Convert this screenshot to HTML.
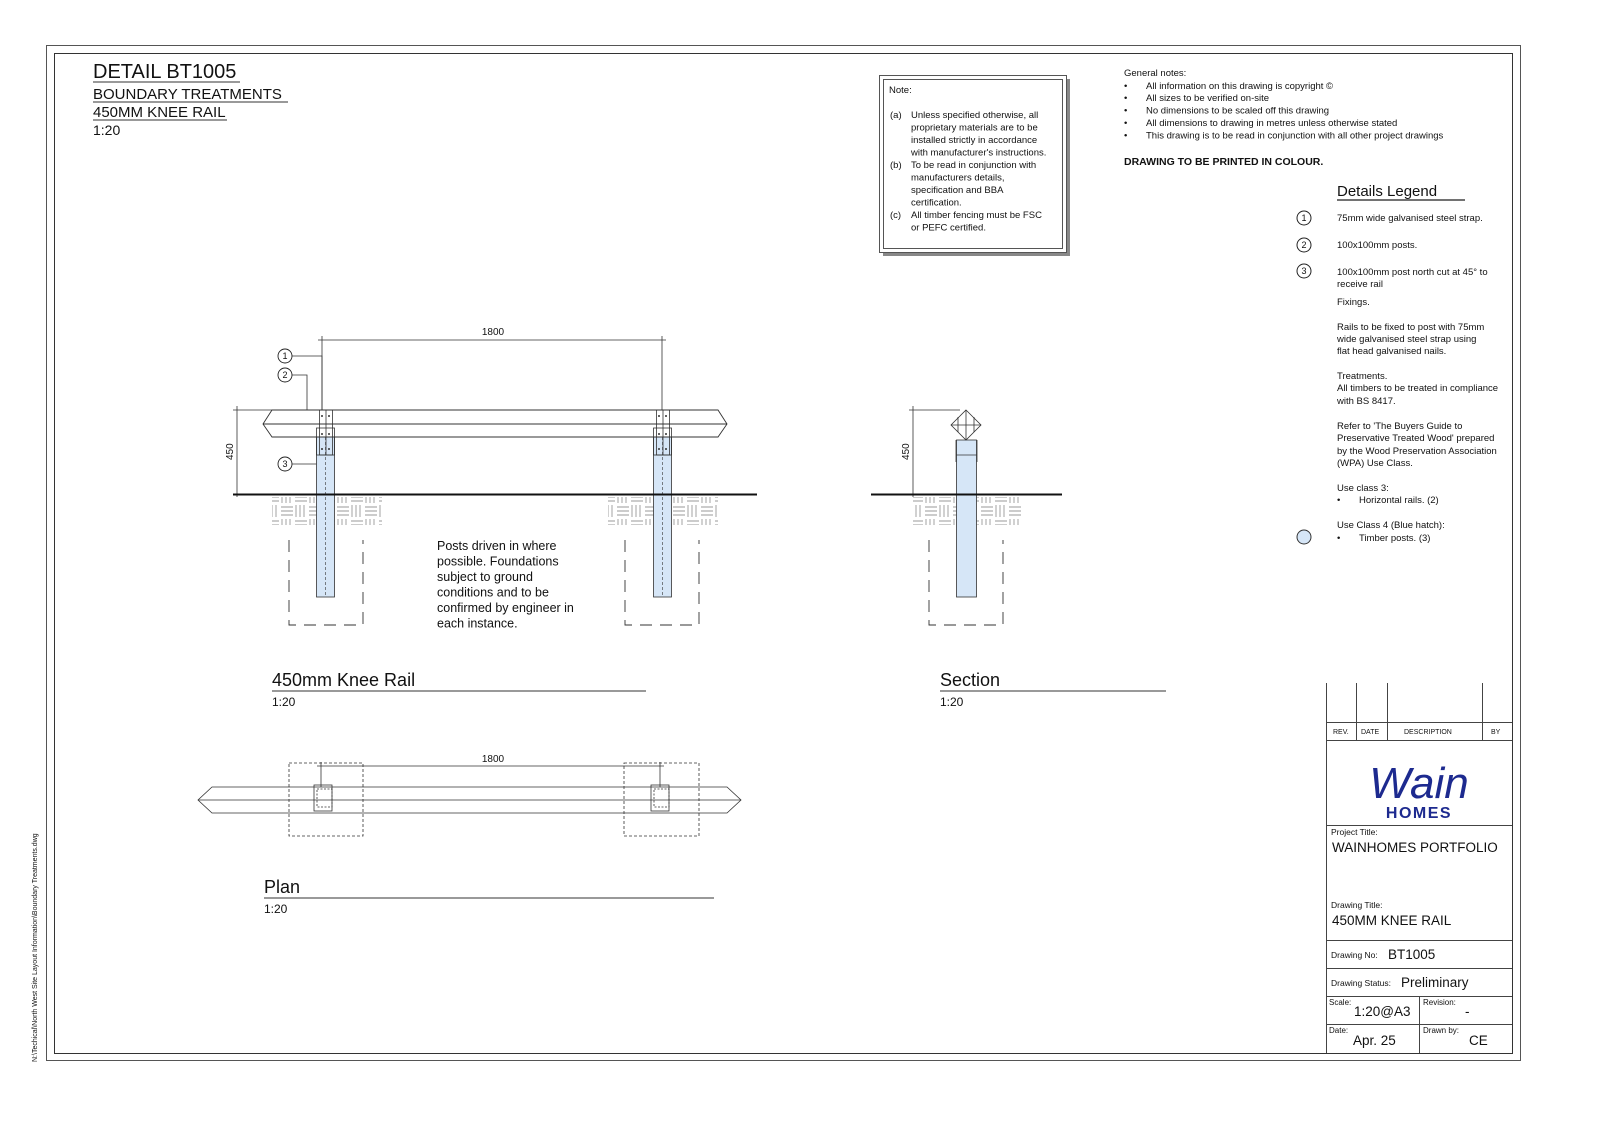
<!DOCTYPE html>
<html><head><meta charset="utf-8"><style>
html,body{margin:0;padding:0;background:#fff;}
svg{display:block;}
text{font-family:"Liberation Sans",sans-serif;fill:#111;}
</style></head><body>
<svg width="1600" height="1131" viewBox="0 0 1600 1131" xmlns="http://www.w3.org/2000/svg">
<defs>
<pattern id="hatch" width="28" height="28" patternUnits="userSpaceOnUse">
<g stroke="#999" stroke-width="0.9" fill="none">
<path d="M1 3h12M1 7h12M1 11h12M16 1v12M20 1v12M24 1v12"/>
<path d="M15 17h12M15 21h12M15 25h12M2 15v12M6 15v12M10 15v12"/>
</g>
</pattern>
</defs>
<rect x="46.5" y="45.5" width="1474" height="1015" fill="none" stroke="#555" stroke-width="1"/>
<rect x="54.5" y="53.5" width="1458" height="1000" fill="none" stroke="#333" stroke-width="1"/>
<text x="0" y="0" font-size="7" transform="translate(37,1062) rotate(-90)">N:\Techical\North West Site Layout Information\Boundary Treatments.dwg</text>

<text x="93" y="78" font-size="20">DETAIL BT1005</text>
<line x1="93" y1="82" x2="240" y2="82" stroke="#333"/>
<text x="93" y="99" font-size="15">BOUNDARY TREATMENTS</text>
<line x1="93" y1="102" x2="288" y2="102" stroke="#333"/>
<text x="93" y="117" font-size="15">450MM KNEE RAIL</text>
<line x1="93" y1="120" x2="227" y2="120" stroke="#333"/>
<text x="93" y="135" font-size="14">1:20</text>

<rect x="883" y="79" width="187" height="177" fill="#888"/>
<rect x="879.5" y="75.5" width="187" height="177" fill="#fff" stroke="#555"/>
<rect x="883.5" y="79.5" width="179" height="169" fill="none" stroke="#555"/>
<g font-size="9.5">
<text x="889" y="93">Note:</text>
<text x="890" y="118">(a)</text>
<text x="911" y="118">Unless specified otherwise, all</text>
<text x="911" y="130.5">proprietary materials are to be</text>
<text x="911" y="143">installed strictly in accordance</text>
<text x="911" y="155.5">with manufacturer's instructions.</text>
<text x="890" y="168">(b)</text>
<text x="911" y="168">To be read in conjunction with</text>
<text x="911" y="180.5">manufacturers details,</text>
<text x="911" y="193">specification and BBA</text>
<text x="911" y="205.5">certification.</text>
<text x="890" y="218">(c)</text>
<text x="911" y="218">All timber fencing must be FSC</text>
<text x="911" y="230.5">or PEFC certified.</text>
</g>

<g font-size="9.5">
<text x="1124" y="76">General notes:</text>
<text x="1124" y="89">•</text><text x="1146" y="89">All information on this drawing is copyright ©</text>
<text x="1124" y="101">•</text><text x="1146" y="101">All sizes to be verified on-site</text>
<text x="1124" y="113.5">•</text><text x="1146" y="113.5">No dimensions to be scaled off this drawing</text>
<text x="1124" y="126">•</text><text x="1146" y="126">All dimensions to drawing in metres unless otherwise stated</text>
<text x="1124" y="138.5">•</text><text x="1146" y="138.5">This drawing is to be read in conjunction with all other project drawings</text>
</g>
<text x="1124" y="165" font-size="10.5" font-weight="bold">DRAWING TO BE PRINTED IN COLOUR.</text>

<text x="1337" y="196" font-size="15">Details Legend</text>
<line x1="1337" y1="200" x2="1465" y2="200" stroke="#444" stroke-width="1.5"/>
<g fill="none" stroke="#222">
<circle cx="1304" cy="218" r="7"/><circle cx="1304" cy="245" r="7"/><circle cx="1304" cy="271" r="7"/>
</g>
<circle cx="1304" cy="537" r="7" fill="#d6e6f7" stroke="#333"/>
<g font-size="9" text-anchor="middle"><text x="1304" y="221">1</text><text x="1304" y="248">2</text><text x="1304" y="274">3</text></g>
<g font-size="9.5">
<text x="1337" y="221">75mm wide galvanised steel strap.</text>
<text x="1337" y="248">100x100mm posts.</text>
<text x="1337" y="275">100x100mm post north cut at 45° to</text>
<text x="1337" y="287">receive rail</text>
<text x="1337" y="305">Fixings.</text>
<text x="1337" y="330">Rails to be fixed to post with 75mm</text>
<text x="1337" y="342">wide galvanised steel strap using</text>
<text x="1337" y="354">flat head galvanised nails.</text>
<text x="1337" y="379">Treatments.</text>
<text x="1337" y="391">All timbers to be treated in compliance</text>
<text x="1337" y="404">with BS 8417.</text>
<text x="1337" y="429">Refer to 'The Buyers Guide to</text>
<text x="1337" y="441">Preservative Treated Wood' prepared</text>
<text x="1337" y="454">by the Wood Preservation Association</text>
<text x="1337" y="466">(WPA) Use Class.</text>
<text x="1337" y="491">Use class 3:</text>
<text x="1337" y="503">•</text><text x="1359" y="503">Horizontal rails. (2)</text>
<text x="1337" y="528">Use Class 4 (Blue hatch):</text>
<text x="1337" y="541">•</text><text x="1359" y="541">Timber posts. (3)</text>
</g>

<g stroke="#333" stroke-width="0.8" fill="none">
<line x1="322" y1="336" x2="322" y2="410"/><line x1="662" y1="336" x2="662" y2="410"/>
<line x1="318" y1="340" x2="666" y2="340"/>
<line x1="233" y1="410" x2="272" y2="410"/>
<line x1="237" y1="406" x2="237" y2="497"/>
<polyline points="292,356 322,356 322,418"/>
<polyline points="292,375 307,375 307,412"/>
<polyline points="292,464 320,464"/>
</g>
<g fill="#fff" stroke="#222" stroke-width="0.9">
<circle cx="285" cy="356" r="7"/><circle cx="285" cy="375" r="7"/><circle cx="285" cy="464" r="7"/>
</g>
<g font-size="9" text-anchor="middle"><text x="285" y="359">1</text><text x="285" y="378">2</text><text x="285" y="467">3</text></g>
<text x="493" y="335" font-size="10" text-anchor="middle">1800</text>
<text font-size="10" transform="translate(233,460) rotate(-90)">450</text>

<rect x="272" y="497" width="110" height="28" fill="url(#hatch)"/>
<rect x="608" y="497" width="110" height="28" fill="url(#hatch)"/>
<rect x="913" y="497" width="110" height="28" fill="url(#hatch)"/>

<rect x="316.5" y="437" width="18" height="160" fill="#d6e6f7" stroke="#333" stroke-width="0.8"/>
<rect x="653.5" y="437" width="18" height="160" fill="#d6e6f7" stroke="#333" stroke-width="0.8"/>
<line x1="325.5" y1="437" x2="325.5" y2="597" stroke="#333" stroke-width="0.6" stroke-dasharray="3,2"/>
<line x1="662.5" y1="437" x2="662.5" y2="597" stroke="#333" stroke-width="0.6" stroke-dasharray="3,2"/>
<polygon points="272,410 718,410 727,424 718,437 272,437 263,424" fill="#fff" stroke="#333" stroke-width="0.9"/>
<line x1="263" y1="424" x2="727" y2="424" stroke="#333" stroke-width="0.9"/>
<g fill="none" stroke="#333" stroke-width="0.8">
<rect x="319.5" y="410" width="13" height="45"/><rect x="316.5" y="428" width="18" height="27"/>
<line x1="326" y1="410" x2="326" y2="455"/>
<rect x="656.5" y="410" width="13" height="45"/><rect x="653.5" y="428" width="18" height="27"/>
<line x1="663" y1="410" x2="663" y2="455"/>
</g>
<g fill="#333">
<circle cx="322" cy="416" r="1"/><circle cx="329" cy="416" r="1"/><circle cx="322" cy="434" r="1"/><circle cx="329" cy="434" r="1"/><circle cx="322" cy="449" r="1"/><circle cx="329" cy="449" r="1"/>
<circle cx="659" cy="416" r="1"/><circle cx="666" cy="416" r="1"/><circle cx="659" cy="434" r="1"/><circle cx="666" cy="434" r="1"/><circle cx="659" cy="449" r="1"/><circle cx="666" cy="449" r="1"/>
</g>
<line x1="233" y1="494.5" x2="757" y2="494.5" stroke="#111" stroke-width="2"/>
<g fill="none" stroke="#333" stroke-width="0.9" stroke-dasharray="12,8">
<polyline points="289,540 289,625 363,625 363,540"/>
<polyline points="625,540 625,625 699,625 699,540"/>
<polyline points="929,540 929,625 1003,625 1003,540"/>
</g>

<g font-size="12.5">
<text x="437" y="550">Posts driven in where</text>
<text x="437" y="565.5">possible. Foundations</text>
<text x="437" y="581">subject to ground</text>
<text x="437" y="596.5">conditions and to be</text>
<text x="437" y="612">confirmed by engineer in</text>
<text x="437" y="627.5">each instance.</text>
</g>

<rect x="956.5" y="440" width="20" height="157" fill="#d6e6f7" stroke="#333" stroke-width="0.8"/>
<g fill="none" stroke="#333" stroke-width="0.8">
<polygon points="966,410 981,425 966,440 951,425"/>
<line x1="951" y1="425" x2="981" y2="425"/><line x1="966" y1="410" x2="966" y2="440"/>
<line x1="958" y1="417" x2="958" y2="432"/><line x1="974" y1="417" x2="974" y2="432"/>
<line x1="956" y1="440" x2="956" y2="462"/><line x1="977" y1="440" x2="977" y2="462"/>
<line x1="956" y1="455" x2="977" y2="455"/>
<line x1="909" y1="410" x2="960" y2="410"/><line x1="913" y1="406" x2="913" y2="497"/>
</g>
<text font-size="10" transform="translate(909,460) rotate(-90)">450</text>
<line x1="871" y1="494.5" x2="1062" y2="494.5" stroke="#111" stroke-width="2"/>

<text x="272" y="686" font-size="18">450mm Knee Rail</text>
<line x1="272" y1="691" x2="646" y2="691" stroke="#333"/>
<text x="272" y="706" font-size="12">1:20</text>
<text x="940" y="686" font-size="18">Section</text>
<line x1="940" y1="691" x2="1166" y2="691" stroke="#333"/>
<text x="940" y="706" font-size="12">1:20</text>
<text x="264" y="893" font-size="18">Plan</text>
<line x1="264" y1="898" x2="714" y2="898" stroke="#333"/>
<text x="264" y="913" font-size="12">1:20</text>

<g fill="none" stroke="#333" stroke-width="0.8">
<rect x="289" y="763" width="74" height="73" stroke-dasharray="3,2"/>
<rect x="624" y="763" width="75" height="73" stroke-dasharray="3,2"/>
<polygon points="212,787 727,787 741,800 727,813 212,813 198,800"/>
<line x1="198" y1="800" x2="741" y2="800"/>
<line x1="321" y1="762" x2="321" y2="787"/><line x1="660" y1="762" x2="660" y2="787"/>
<line x1="317" y1="766" x2="664" y2="766"/>
<rect x="314" y="785" width="18" height="26"/><rect x="651" y="785" width="18" height="26"/>
<rect x="317" y="789" width="15" height="18" stroke-dasharray="2,1.5"/><rect x="654" y="789" width="15" height="18" stroke-dasharray="2,1.5"/>
</g>
<text x="493" y="762" font-size="10" text-anchor="middle">1800</text>

<g fill="none" stroke="#444" stroke-width="1">
<line x1="1326.5" y1="683" x2="1326.5" y2="1053"/>
<line x1="1356.5" y1="683" x2="1356.5" y2="740"/>
<line x1="1387.5" y1="683" x2="1387.5" y2="740"/>
<line x1="1482.5" y1="683" x2="1482.5" y2="740"/>
<line x1="1326" y1="722.5" x2="1512" y2="722.5"/>
<line x1="1326" y1="740.5" x2="1512" y2="740.5"/>
<line x1="1326" y1="825.5" x2="1512" y2="825.5"/>
<line x1="1326" y1="940.5" x2="1512" y2="940.5"/>
<line x1="1326" y1="968.5" x2="1512" y2="968.5"/>
<line x1="1326" y1="996.5" x2="1512" y2="996.5"/>
<line x1="1326" y1="1024.5" x2="1512" y2="1024.5"/>
<line x1="1419.5" y1="996" x2="1419.5" y2="1053"/>
</g>
<g font-size="7">
<text x="1333" y="734">REV.</text><text x="1361" y="734">DATE</text><text x="1404" y="734">DESCRIPTION</text><text x="1491" y="734">BY</text>
</g>
<text x="1419" y="798" font-size="44" style="fill:#1d2a8f" text-anchor="middle" font-family="Liberation Serif, serif" font-style="italic">Wain</text>
<text x="1419" y="818" font-size="16" font-weight="bold" style="fill:#1d2a8f;letter-spacing:1.5px" text-anchor="middle">HOMES</text>
<text x="1331" y="835" font-size="8.5">Project Title:</text>
<text x="1332" y="852" font-size="13.5">WAINHOMES PORTFOLIO</text>
<text x="1331" y="908" font-size="8.5">Drawing Title:</text>
<text x="1332" y="925" font-size="13.5">450MM KNEE RAIL</text>
<text x="1331" y="958" font-size="8.5">Drawing No:</text>
<text x="1388" y="959" font-size="13.5">BT1005</text>
<text x="1331" y="986" font-size="8.5">Drawing Status:</text>
<text x="1401" y="987" font-size="13.5">Preliminary</text>
<text x="1329" y="1005" font-size="8">Scale:</text>
<text x="1354" y="1016" font-size="13.5">1:20@A3</text>
<text x="1423" y="1005" font-size="8">Revision:</text>
<text x="1465" y="1016" font-size="13.5">-</text>
<text x="1329" y="1033" font-size="8">Date:</text>
<text x="1353" y="1045" font-size="13.5">Apr. 25</text>
<text x="1423" y="1033" font-size="8">Drawn by:</text>
<text x="1469" y="1045" font-size="13.5">CE</text>
</svg>
</body></html>
